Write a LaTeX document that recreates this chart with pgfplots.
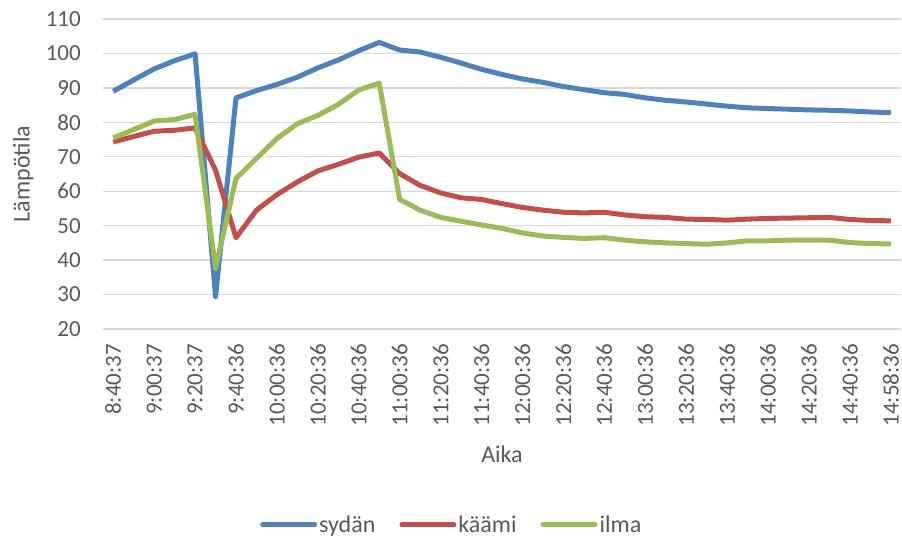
\documentclass[border=0pt]{standalone}
\usepackage{pgfplots}
\pgfplotsset{compat=1.18}
\usepackage{pgfplotstable}
\usepackage{fontspec}
\setmainfont{Carlito}
\definecolor{cblue}{HTML}{4F81BD}
\definecolor{cred}{HTML}{C0504D}
\definecolor{cgreen}{HTML}{9BBB59}
\definecolor{ctext}{HTML}{595959}
\definecolor{cgrid}{HTML}{D9D9D9}
\pgfplotstableread{
i s k a
0 89.0 74.3 75.5
1 92.3 75.9 77.9
2 95.5 77.4 80.4
3 97.9 77.7 80.8
4 99.9 78.4 82.3
5 29.4 66.1 37.6
6 87.1 46.5 63.7
7 89.2 54.5 69.5
8 91.0 59.0 75.3
9 93.1 62.7 79.6
10 95.8 65.9 82.0
11 98.1 67.8 85.2
12 100.8 69.9 89.4
13 103.2 71.1 91.4
14 101.0 65.1 57.6
15 100.4 61.7 54.5
16 98.9 59.5 52.4
17 97.2 58.1 51.3
18 95.4 57.6 50.2
19 93.9 56.4 49.2
20 92.6 55.3 47.9
21 91.6 54.5 47.0
22 90.4 53.9 46.6
23 89.5 53.7 46.3
24 88.6 53.9 46.5
25 88.1 53.1 45.8
26 87.1 52.6 45.3
27 86.4 52.4 45.0
28 85.9 51.9 44.8
29 85.3 51.8 44.6
30 84.7 51.6 45.0
31 84.2 51.9 45.6
32 84.0 52.1 45.6
33 83.8 52.2 45.8
34 83.6 52.3 45.8
35 83.5 52.4 45.8
36 83.3 51.8 45.1
37 83.0 51.5 44.8
38 82.8 51.4 44.7
}\data
\begin{document}
\begin{tikzpicture}
\useasboundingbox (0,0) rectangle (902bp,539bp);
\begin{axis}[
  at={(103bp,210bp)}, anchor=south west,
  scale only axis, width=798bp, height=310bp,
  xmin=-0.5, xmax=38.5, ymin=20, ymax=110,
  ytick={20,30,...,110},
  xtick={0,2,...,38},
  xticklabels={8:40:37,9:00:37,9:20:37,9:40:36,10:00:36,10:20:36,10:40:36,11:00:36,11:20:36,11:40:36,12:00:36,12:20:36,12:40:36,13:00:36,13:20:36,13:40:36,14:00:36,14:20:36,14:40:36,14:58:36},
  /pgf/number format/assume math mode=true,
  axis line style={draw=none},
  major tick length=0pt,
  ymajorgrids,
  major grid style={color=cgrid, line width=1.3bp},
  tick label style={font=\fontsize{23bp}{27bp}\selectfont, text=ctext},
  yticklabel style={anchor=east, inner sep=0pt},
  yticklabel shift=22bp,
  xticklabel style={rotate=90, anchor=east, inner sep=0pt},
  xticklabel shift=15bp,
  xlabel={Aika},
  xlabel style={at={(axis description cs:0.5,-0.403)}, anchor=center, font=\fontsize{24bp}{28bp}\selectfont, text=ctext},
  ylabel={Lämpötila},
  ylabel style={at={(axis description cs:-0.1,0.5)}, anchor=center, rotate=0, font=\fontsize{24bp}{28bp}\selectfont, text=ctext},
  legend columns=3,
  legend style={at={(axis description cs:0.437,-0.632)}, anchor=center, draw=none, fill=none,
    font=\fontsize{24bp}{28bp}\selectfont, text=ctext,
    /tikz/every even column/.append style={column sep=22bp},
    nodes={inner sep=2bp}},
  legend image code/.code={\draw[#1, line cap=round] (0bp,0bp) -- (52bp,0bp);},
  every axis plot/.append style={line width=5bp, line join=round, no markers},
]
\addplot[cblue] table[x=i, y=s] {\data};
\addlegendentry{sydän}
\addplot[cred] table[x=i, y=k] {\data};
\addlegendentry{käämi}
\addplot[cgreen] table[x=i, y=a] {\data};
\addlegendentry{ilma}
\end{axis}
\end{tikzpicture}
\end{document}
